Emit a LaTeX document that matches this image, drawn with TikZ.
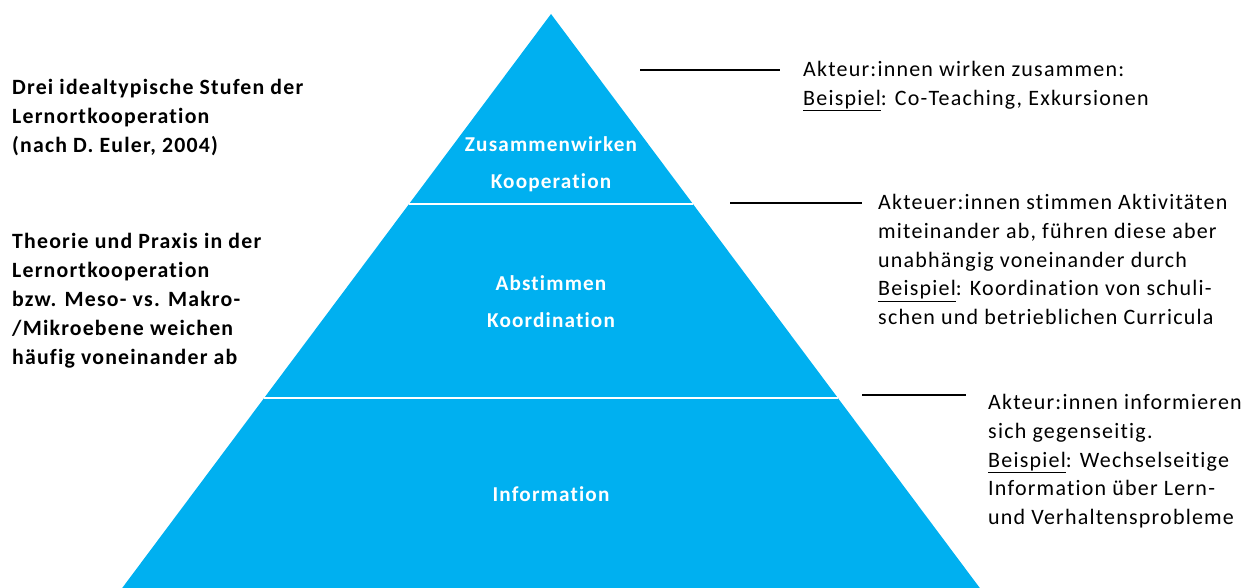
\documentclass[tikz,border=0pt]{standalone}
\usepackage{fontspec}
\setmainfont{Carlito}[LetterSpace=5.5,Ligatures=NoCommon]
\usetikzlibrary{positioning}
\definecolor{pyrblue}{HTML}{00B0F0}

\begin{document}
\begin{tikzpicture}[x=1pt,y=-1pt,
  stufe/.style={fill=pyrblue,draw=none},
  trenner/.style={white,line width=2.5pt},
  stufetext/.style={font=\fontsize{21.2}{37}\selectfont\bfseries,text=white,align=center},
  erklaerung/.style={font=\fontsize{22}{28.8}\selectfont,align=left,anchor=north west,inner sep=0pt},
  hinweis/.style={font=\fontsize{21.8}{29}\selectfont\bfseries,align=left,anchor=north west,inner sep=0pt},
  strich/.style={black,line width=2.6pt}]
\useasboundingbox (0,0) rectangle (1255,588);
\clip (0,0) rectangle (1255,588);

% Pyramide
\draw[stufe] (551,14) -- (994,607) -- (108,607) -- cycle;
\draw[trenner] (409,204) -- (693,204);
\draw[trenner] (264,398) -- (838,398);

\node[stufetext] (koop) at (551,164) {Zusammenwirken\\Kooperation};
\node[stufetext] (koord) at (551,302) {Abstimmen\\Koordination};
\node[stufetext] (info) at (551,494) {Information};

% Erklaerungen rechts
\node[erklaerung] (txtkoop) at (803,61) {Akteur:innen wirken zusammen:\\\underline{Beispiel}: Co-Teaching, Exkursionen};
\node[erklaerung] (txtkoord) at (878,194) {Akteuer:innen stimmen Aktivitäten\\miteinander ab, führen diese aber\\unabhängig voneinander durch\\\underline{Beispiel}: Koordination von schuli-\\schen und betrieblichen Curricula};
\node[erklaerung] (txtinfo) at (988,394) {Akteur:innen informieren\\sich gegenseitig.\\\underline{Beispiel}: Wechselseitige\\Information über Lern-\\und Verhaltensprobleme};

\coordinate (lkoopA) at (640,70);
\coordinate (lkoopB) at (780,70);
\coordinate (lkoordA) at (730,203);
\coordinate (lkoordB) at (862,203);
\coordinate (linfoA) at (862,395);
\coordinate (linfoB) at (966,395);
\draw[strich] (lkoopA) -- (lkoopB);
\draw[strich] (lkoordA) -- (lkoordB);
\draw[strich] (linfoA) -- (linfoB);

% Hinweise links
\node[hinweis] (stufen) at (12,79) {Drei idealtypische Stufen der\\Lernortkooperation\\(nach D. Euler, 2004)};
\node[hinweis] (ebenen) at (12,233) {Theorie und Praxis in der\\Lernortkooperation\\bzw. Meso- vs. Makro-\\/Mikroebene weichen\\häufig voneinander ab};

\end{tikzpicture}
\end{document}
